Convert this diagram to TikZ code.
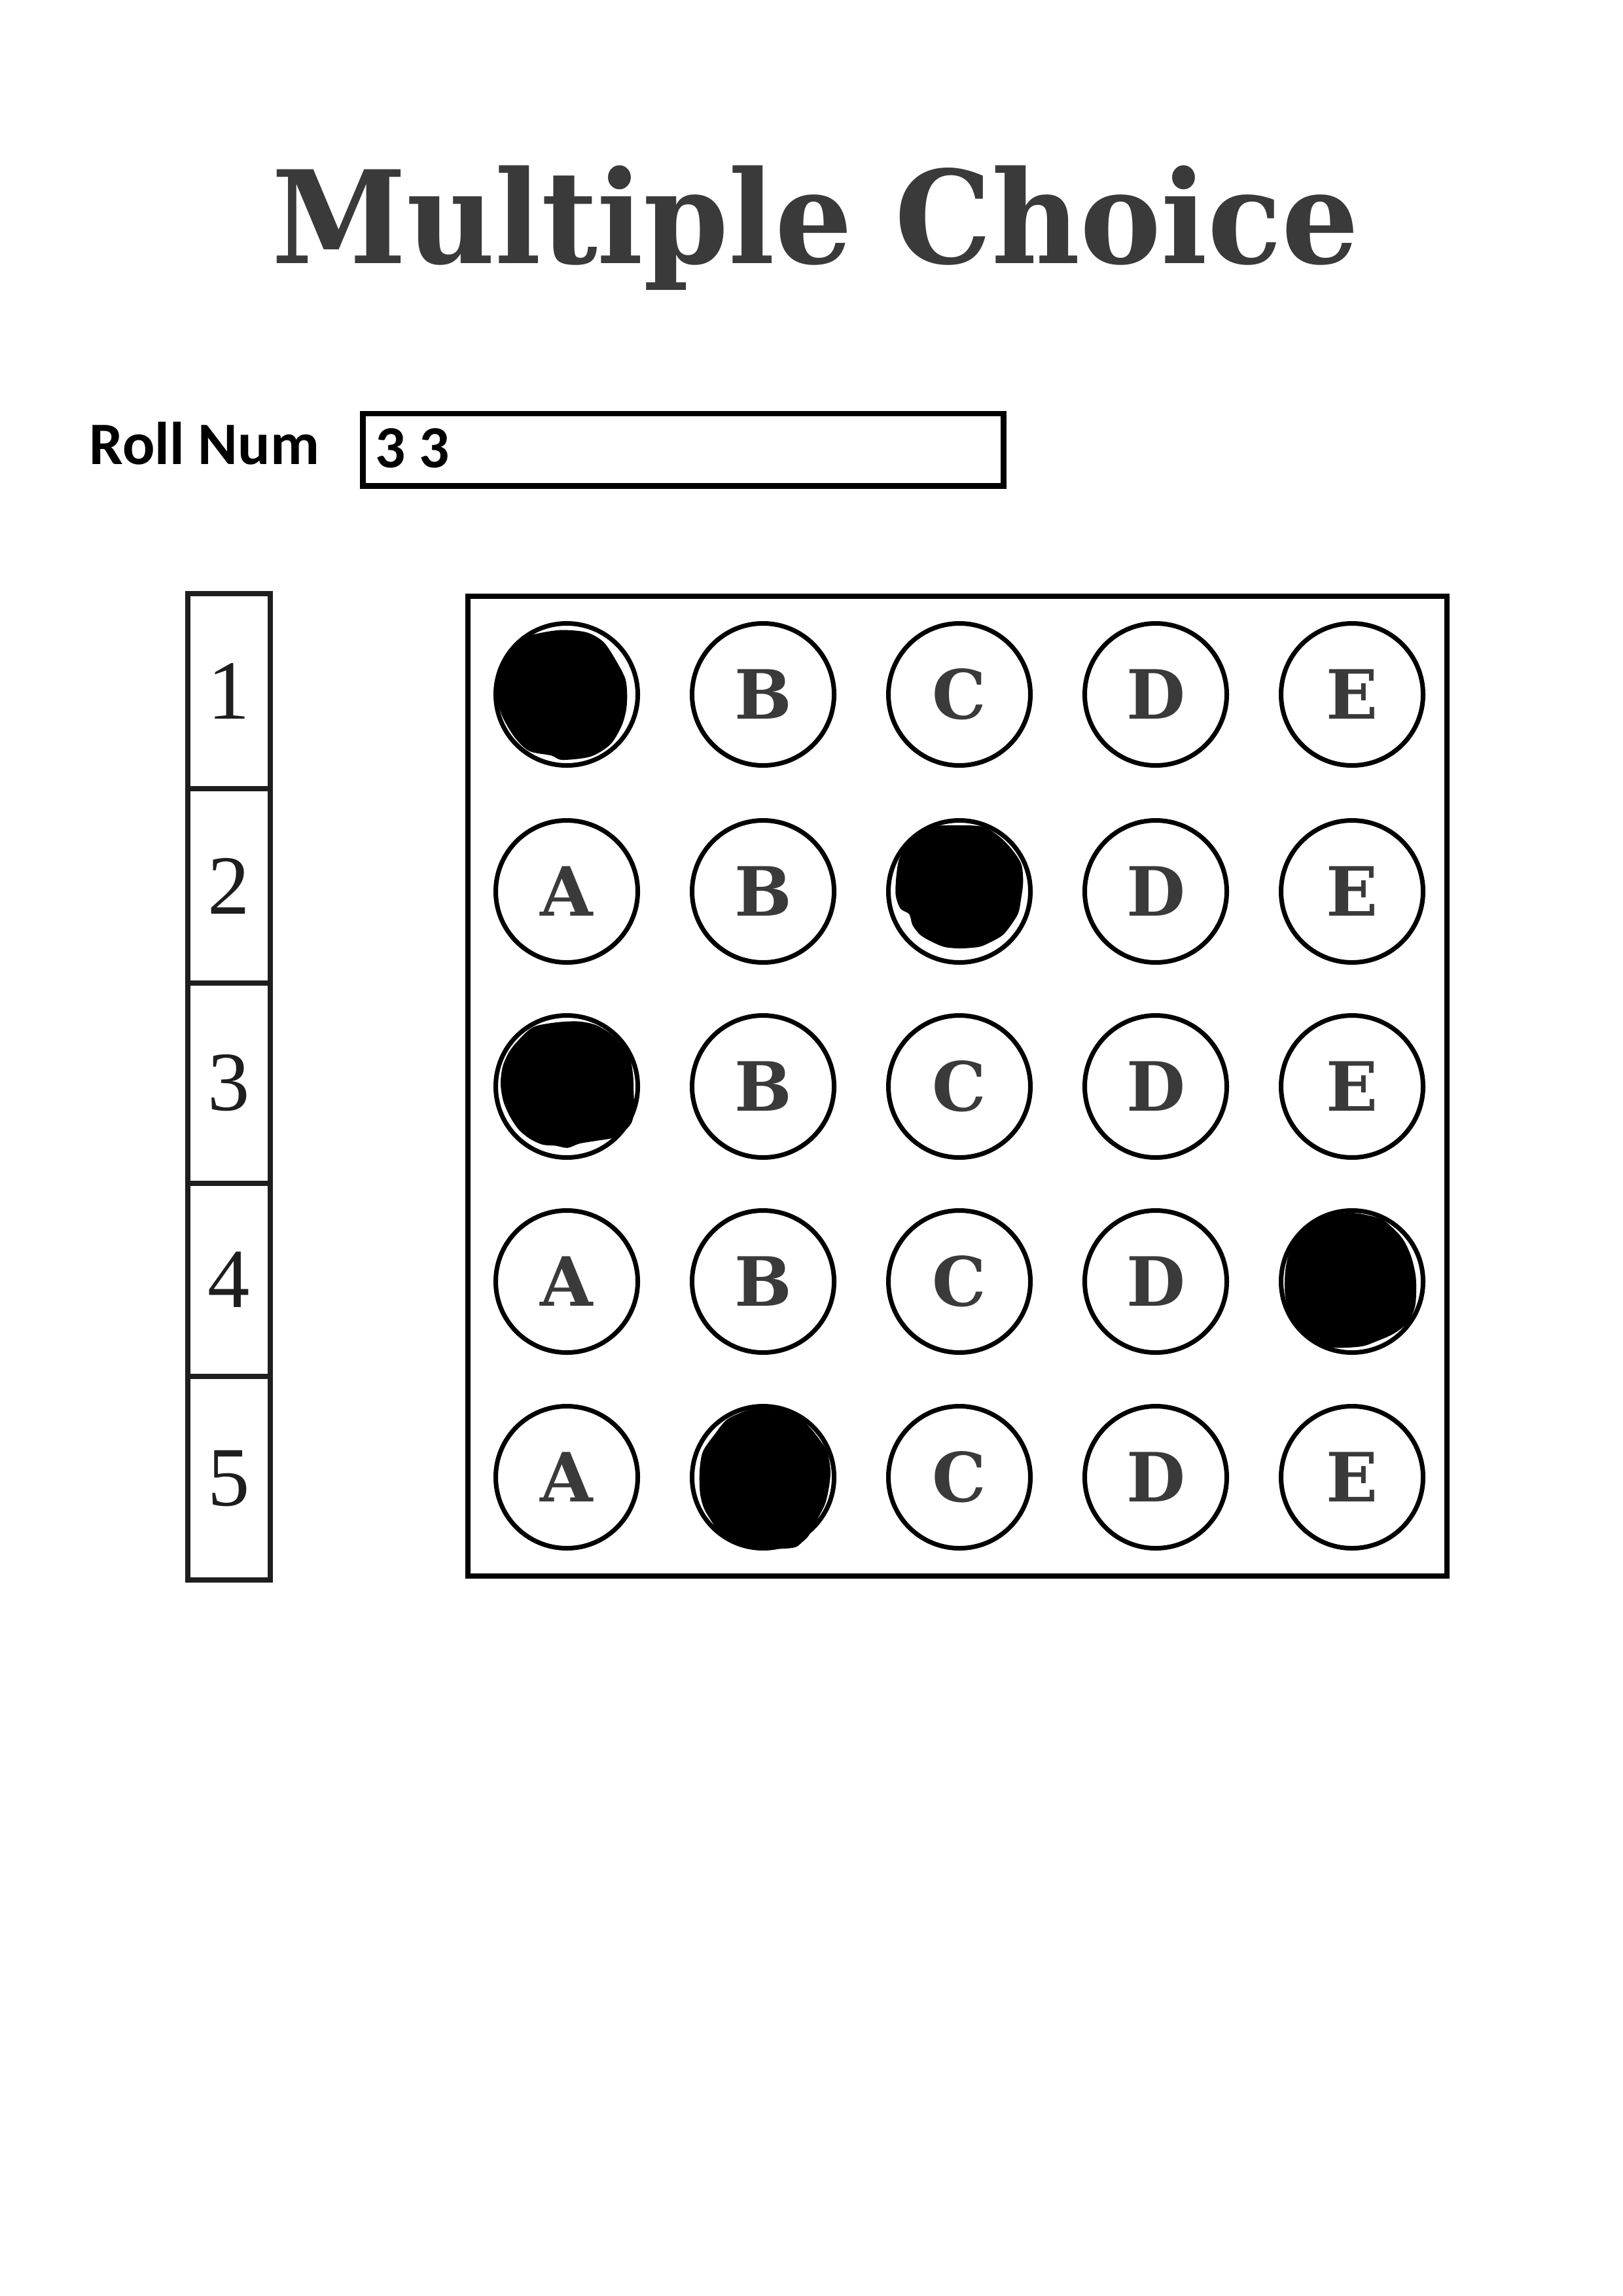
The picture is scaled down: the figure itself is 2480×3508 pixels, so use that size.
\documentclass[tikz,border=0pt]{standalone}
\usepackage{graphicx}
\usepackage{fontspec}
\newfontfamily\serifB{DejaVu Serif}
\newfontfamily\digitfont{Liberation Serif}
\newfontfamily\calB{Carlito}
\definecolor{ink}{RGB}{58,58,58}
\definecolor{digit}{RGB}{30,30,30}
\begin{document}
\begin{tikzpicture}[x=0.0846774mm,y=-0.0846774mm,
  bubble/.style={circle,draw=black,line width=1.69pt,minimum size=18.375mm,inner sep=0pt,
    font=\serifB\bfseries\fontsize{25pt}{30pt}\selectfont,text=ink},
  cell/.style={rectangle,draw=digit,line width=1.9pt,minimum width=10.669mm,inner sep=0pt,
    font=\digitfont\fontsize{31pt}{36pt}\selectfont,text=digit},
  frame/.style={rectangle,draw=black,line width=1.9pt,inner sep=0pt},
  blob/.style={fill=black}]
\fill[white] (0,0) rectangle (2480,3508);
\useasboundingbox (0,0) rectangle (2480,3508);

% title
\node[anchor=base,inner sep=0pt,text=ink,font=\serifB\bfseries\fontsize{47.4pt}{56pt}\selectfont]
  (title) at (1246,402) {\scalebox{0.945}[1]{Multiple Choice}};

% roll number
\node[anchor=base west,inner sep=0pt,font=\calB\bfseries\fontsize{22.2pt}{26pt}\selectfont]
  (rolllabel) at (136,709) {Roll Num};
\node[frame,line width=2.1pt,minimum width=82.899mm,minimum height=9.357mm] (rollbox) at (1044,687.25) {};
\node[anchor=base west,inner sep=0pt,font=\calB\bfseries\fontsize{22pt}{26pt}\selectfont]
  (rollnum) at (573,714) {3 3};

% question numbers column
\node[cell,minimum height=25.234mm] (q1) at (350,1056) {1};
\node[cell,minimum height=25.149mm] (q2) at (350,1353.5) {2};
\node[cell,minimum height=25.911mm] (q3) at (350,1655) {3};
\node[cell,minimum height=24.980mm] (q4) at (350,1955.5) {4};
\node[cell,minimum height=26.335mm] (q5) at (350,2258.5) {5};

% answer grid frame
\node[frame,minimum width=126.678mm,minimum height=126.763mm] (grid) at (1463,1659.5) {};

% bubbles
\node[bubble] (a1) at (866,1061) {};
\node[bubble] (b1) at (1166,1061) {B};
\node[bubble] (c1) at (1466,1061) {C};
\node[bubble] (d1) at (1766,1061) {D};
\node[bubble] (e1) at (2066,1061) {E};

\node[bubble] (a2) at (866,1362) {A};
\node[bubble] (b2) at (1166,1362) {B};
\node[bubble] (c2) at (1466,1362) {};
\node[bubble] (d2) at (1766,1362) {D};
\node[bubble] (e2) at (2066,1362) {E};

\node[bubble] (a3) at (866,1660) {};
\node[bubble] (b3) at (1166,1660) {B};
\node[bubble] (c3) at (1466,1660) {C};
\node[bubble] (d3) at (1766,1660) {D};
\node[bubble] (e3) at (2066,1660) {E};

\node[bubble] (a4) at (866,1958) {A};
\node[bubble] (b4) at (1166,1958) {B};
\node[bubble] (c4) at (1466,1958) {C};
\node[bubble] (d4) at (1766,1958) {D};
\node[bubble] (e4) at (2066,1958) {};

\node[bubble] (a5) at (866,2257) {A};
\node[bubble] (b5) at (1166,2257) {};
\node[bubble] (c5) at (1466,2257) {C};
\node[bubble] (d5) at (1766,2257) {D};
\node[bubble] (e5) at (2066,2257) {E};

% hand-filled marks
\begin{scope}[shift={(a1.center)}]
\fill[blob] plot[smooth cycle] coordinates {(-50.3,-91.7) (-10.3,-98.3) (29.7,-95) (56.3,-80) (76.3,-50) (89.7,-23.3) (92.3,3.3) (90.3,26.7) (83,50) (66.3,76.7) (36.3,95) (-7,100) (-23.7,93.3) (-57,86.7) (-78.7,66.7) (-97,36.7) (-107,6.7) (-105.3,-16.7) (-97,-43.3) (-83.7,-66.7) (-67,-83.3)};
\end{scope}
\begin{scope}[shift={(c2.center)}]
\fill[blob] plot[smooth cycle] coordinates {(-33.3,-100.3) (0,-101) (36.7,-98.7) (63.3,-82) (83.3,-60.3) (95,-40.3) (97.3,-13.7) (94,13) (90,33) (80,49.7) (66.7,66.3) (50,76.3) (30,84.7) (0,87) (-23.3,84.7) (-43.3,76.3) (-60,66.3) (-71.7,51.3) (-76.7,34.7) (-90,26.3) (-97.3,6.3) (-96.7,-20.3) (-92.7,-47) (-81.7,-68.7) (-65,-85.3) (-50,-95.3)};
\end{scope}
\begin{scope}[shift={(a3.center)}]
\fill[blob] plot[smooth cycle] coordinates {(-50.3,-91.2) (-17,-97.8) (16.3,-99.5) (43,-94.5) (66.3,-81.2) (83,-64.5) (96.3,-44.5) (101.3,-17.8) (102.3,8.8) (103,35.5) (99,55.5) (86.3,69.5) (69.7,78.8) (46.3,82.8) (19.7,87.2) (1.3,93.8) (-17,90.5) (-37,88.8) (-57,79.5) (-73.7,65.5) (-87,45.5) (-97,22.2) (-101,-4.5) (-97.7,-31.2) (-87,-54.5) (-70.3,-74.5)};
\end{scope}
\begin{scope}[shift={(e4.center)}]
\fill[blob] plot[smooth cycle] coordinates {(53,-90) (76.3,-66.7) (89.7,-40) (97,-10) (98,16.7) (95.7,40) (84.7,63.3) (63,80) (36.3,91.7) (13,99.3) (-30.3,100.7) (-63.7,88.3) (-90.3,60) (-102,23.3) (-102,-16.7) (-93.7,-50) (-73.7,-80) (-40.3,-100) (0,-105) (36.3,-98.3)};
\end{scope}
\begin{scope}[shift={(b5.center)}]
\fill[blob] plot[smooth cycle] coordinates {(-53.7,-89.2) (-73.7,-65.8) (-92,-39.2) (-97,-9.2) (-96.3,24.2) (-90.3,47.5) (-78.7,67.5) (-67,84.2) (-43.7,100.8) (-10.3,109.2) (29.7,109.2) (49.7,106.8) (59.7,99.2) (69.7,89.2) (83,64.2) (94.7,41) (100.3,17.5) (103,-9.2) (98,-39.2) (86.3,-57.5) (73,-74.2) (49.7,-95.8) (16.3,-104.2) (-17,-104.2)};
\end{scope}
\end{tikzpicture}
\end{document}
